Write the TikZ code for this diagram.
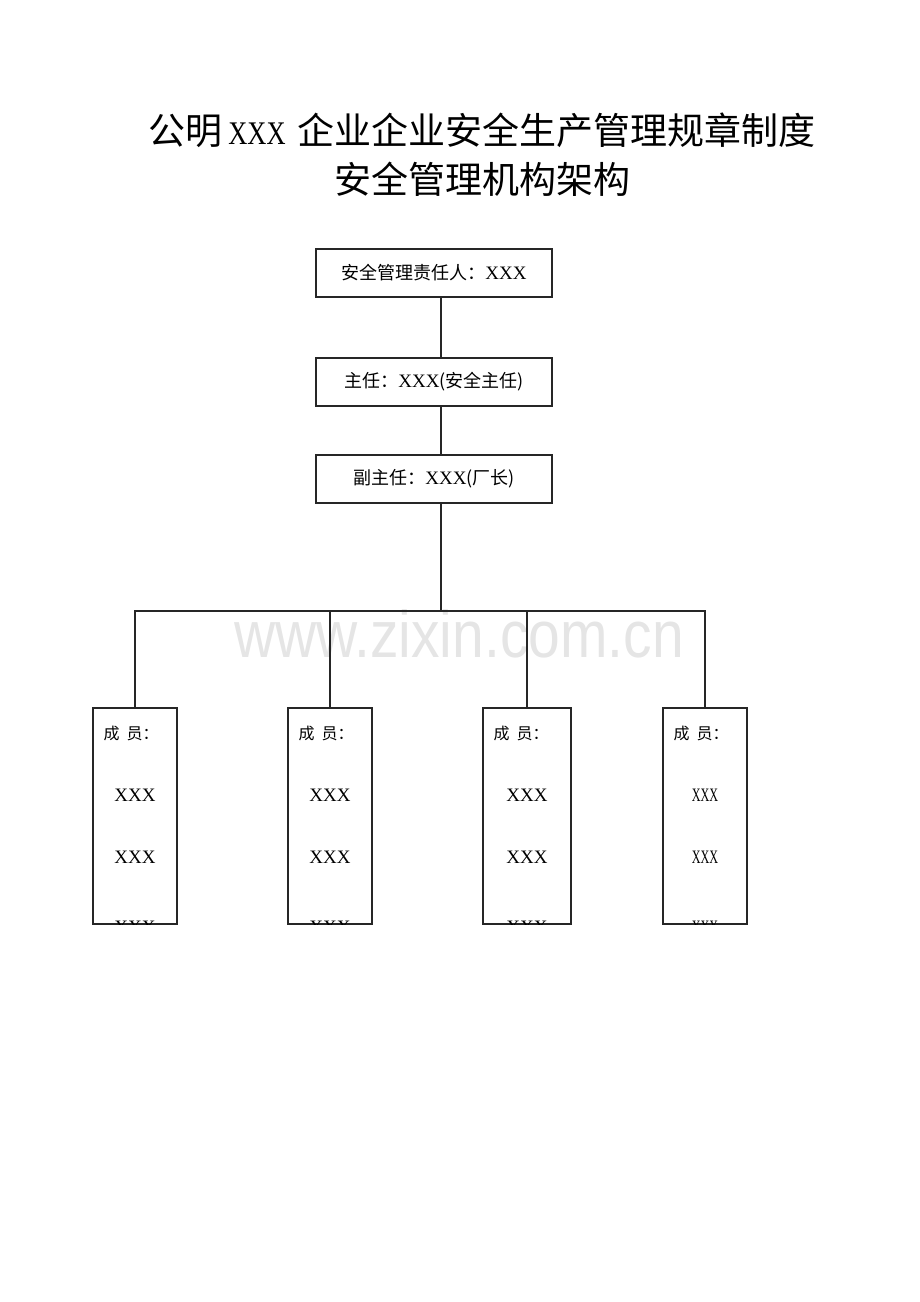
\documentclass[tikz,border=0pt]{standalone}
\usepackage{fontspec}
\setmainfont{Liberation Serif}
\newfontfamily\cjk{Noto Sans CJK SC}
\newfontfamily\titlex{Liberation Serif}[FakeStretch=0.8]
\newfontfamily\memberx{Liberation Serif}[FakeStretch=0.64]
\newfontfamily\wmark{Liberation Sans}
\usepackage{tikz}

\newcommand{\fs}[1]{\fontsize{#1}{#1}\selectfont}
\newcommand{\xxxserif}{\rmfamily\fs{19}}
\newcommand{\xxxnarrow}{\memberx\fs{19}}

\begin{document}
\begin{tikzpicture}[x=1pt,y=-1pt,
    topbox/.style={draw=black!85,line width=1.2pt,minimum width=236pt,minimum height=48pt,inner sep=0pt},
    memberbox/.style={draw=black!85,line width=1.2pt,minimum height=216pt,inner sep=0pt},
    link/.style={black!85,line width=1.1pt}]
    \useasboundingbox (0,0) rectangle (920,1302);

    % title
    \node (title1) at (482,130) {\cjk\fs{37}公明\hspace{6pt}{\titlex\fs{33}XXX}\hspace{12pt}企业企业安全生产管理规章制度};
    \node (title2) at (482,179) {\cjk\fs{37}安全管理机构架构};

    % watermark
    \node[text=black!10,xscale=0.95,yscale=1.1] (wm) at (459,634) {\wmark\fs{60}www.zixin.com.cn};

    \node[topbox] (chief) at (434,273) {\cjk\fs{18}安全管理责任人：{\xxxserif XXX}};
    \node[topbox] (director) at (434,382) {\cjk\fs{18}主任：{\xxxserif XXX}(安全主任)};
    \node[topbox] (vice) at (434,479) {\cjk\fs{18}副主任：{\xxxserif XXX}(厂长)};

    \coordinate (spine) at (441,0);
    \coordinate (bus) at (441,611);
    \draw[link] (chief.south -| spine) -- (director.north -| spine);
    \draw[link] (director.south -| spine) -- (vice.north -| spine);
    \draw[link] (vice.south -| spine) -- (bus);

    % members
    \foreach \i/\cx/\w/\xf in {1/135/84/\xxxserif, 2/330/84/\xxxserif, 3/527/88/\xxxserif, 4/705/84/\xxxnarrow} {
      \node[memberbox,minimum width={\w pt}] (m\i) at (\cx,816) {};
      \node[anchor=west,inner sep=0pt] (lab\i) at ([xshift=11pt,yshift=-26pt]m\i.north west) {\cjk\fs{16}成\hspace{7pt}员：};
      \node[inner sep=0pt] (xa\i) at ([yshift=-88pt]m\i.north) {\xf XXX};
      \node[inner sep=0pt] (xb\i) at ([yshift=-150pt]m\i.north) {\xf XXX};
      \begin{scope}
        \clip (m\i.south west) rectangle (m\i.north east);
        \node[inner sep=0pt] (xc\i) at ([yshift=-220pt]m\i.north) {\xf XXX};
      \end{scope}
    }

    \draw[link] (m1.north) |- (bus) -| (m4.north);
    \draw[link] (m2.north) -- (m2.north |- bus);
    \draw[link] (m3.north) -- (m3.north |- bus);
\end{tikzpicture}
\end{document}
